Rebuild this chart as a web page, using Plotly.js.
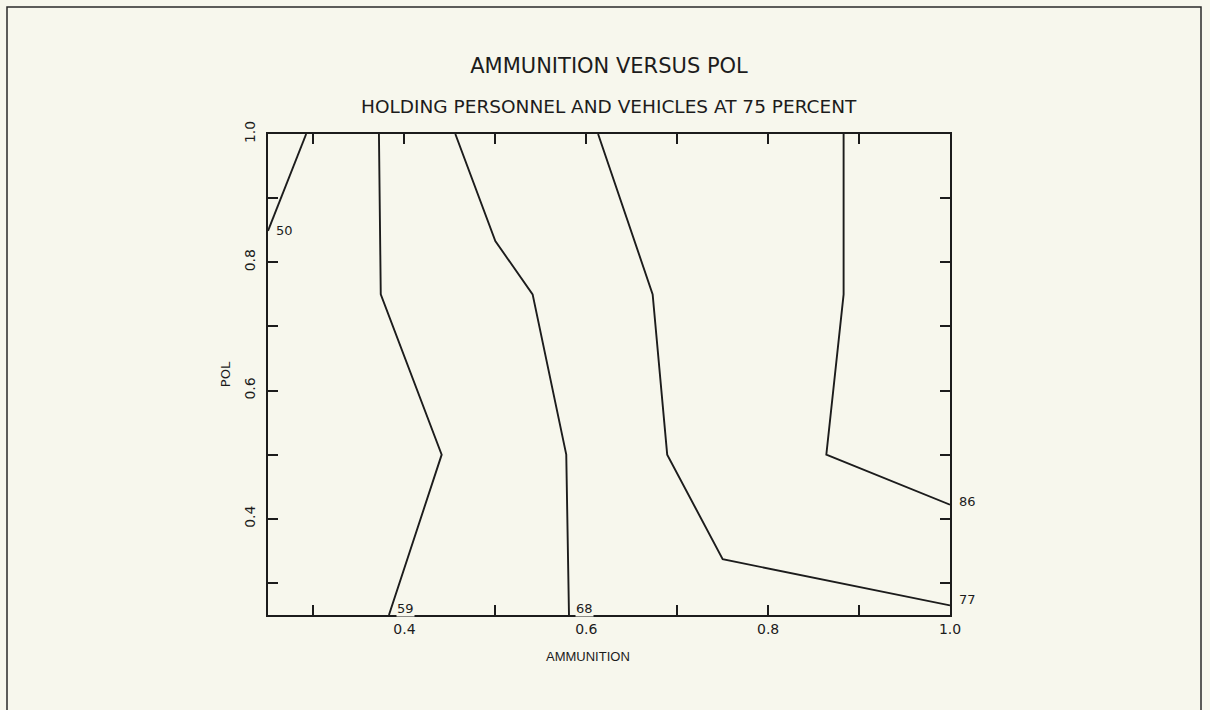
<!DOCTYPE html>
<html>
<head>
<meta charset="utf-8">
<script src="https://cdn.plot.ly/plotly-3.0.1.min.js"></script>
<style>
  html, body { margin: 0; padding: 0; background: #f7f7ed; }
  #chart { width: 1210px; height: 710px; }
</style>
</head>
<body>
<div id="chart"></div>
<script>
// ---- data (contour lines of the response surface) ----
const contourLevels = [50, 59, 68, 77, 86];

const level50X = [0.25, 0.292];
const level50Y = [0.849, 1.0];

const level59X = [0.383, 0.441, 0.374, 0.372];
const level59Y = [0.25, 0.50, 0.75, 1.0];

const level68X = [0.581, 0.578, 0.541, 0.500, 0.456];
const level68Y = [0.25, 0.50, 0.75, 0.833, 1.0];

const level77X = [1.0, 0.750, 0.689, 0.673, 0.613];
const level77Y = [0.265, 0.337, 0.50, 0.75, 1.0];

const level86X = [1.0, 0.864, 0.883, 0.883];
const level86Y = [0.422, 0.50, 0.75, 1.0];

const xTickVals = [0.3, 0.4, 0.5, 0.6, 0.7, 0.8, 0.9, 1.0];
const xTickText = ['', '0.4', '', '0.6', '', '0.8', '', '1.0'];
const yTickVals = [0.3, 0.4, 0.5, 0.6, 0.7, 0.8, 0.9, 1.0];
const yTickText = ['', '0.4', '', '0.6', '', '0.8', '', '1.0'];

// ---- drawing ----
const lineColor = '#1c1c1c';
const bg = '#f7f7ed';
const font = 'DejaVu Sans, Liberation Sans, sans-serif';
const font2 = 'Liberation Sans, Arial, sans-serif';
const series = [
  [level50X, level50Y],
  [level59X, level59Y],
  [level68X, level68Y],
  [level77X, level77Y],
  [level86X, level86Y]
];
const traces = series.map((s, i) => ({
  type: 'scatter', mode: 'lines',
  x: s[0], y: s[1],
  name: String(contourLevels[i]),
  line: { color: lineColor, width: 1.9 },
  hoverinfo: 'x+y+name',
  cliponaxis: false
}));

// label placement: at the first point of each contour with a small pixel offset
const labelOffsets = [[16, 0], [17, 7], [16, 7], [17, 6], [17, 3]];
const labelBg = ['rgba(0,0,0,0)', bg, bg, 'rgba(0,0,0,0)', 'rgba(0,0,0,0)'];
const contourAnnotations = series.map((s, i) => ({
  x: s[0][0], y: s[1][0], xref: 'x', yref: 'y',
  text: String(contourLevels[i]), showarrow: false,
  xshift: labelOffsets[i][0], yshift: labelOffsets[i][1],
  bgcolor: labelBg[i], borderpad: 0,
  font: { family: font, size: 13, color: lineColor }
}));

const layout = {
  width: 1210, height: 710,
  paper_bgcolor: bg, plot_bgcolor: bg,
  margin: { l: 268, r: 260, t: 134, b: 95 },
  showlegend: false,
  title: {
    text: 'AMMUNITION VERSUS POL',
    x: 0.5, xref: 'paper', xanchor: 'center',
    y: 1 - 66 / 710, yref: 'container', yanchor: 'middle',
    font: { family: font, size: 21, color: lineColor }
  },
  xaxis: {
    range: [0.25, 1.0], tickmode: 'array', tickvals: xTickVals, ticktext: xTickText,
    ticks: 'inside', ticklen: 10, tickwidth: 2, tickcolor: lineColor,
    showline: true, linewidth: 2.4, linecolor: lineColor, mirror: 'allticks',
    showgrid: false, zeroline: false,
    tickfont: { family: font, size: 14, color: lineColor },
    title: { text: '' }
  },
  yaxis: {
    range: [0.25, 1.0], tickmode: 'array', tickvals: yTickVals, ticktext: yTickText,
    ticks: 'inside', ticklen: 10, tickwidth: 2, tickcolor: lineColor,
    showline: true, linewidth: 2.4, linecolor: lineColor, mirror: 'allticks',
    showgrid: false, zeroline: false, tickangle: -90,
    ticklabelstandoff: 5,
    tickfont: { family: font, size: 14, color: lineColor },
    title: { text: 'POL', standoff: 9, font: { family: font, size: 13, color: lineColor } }
  },
  annotations: [
    {
      text: 'HOLDING PERSONNEL AND VEHICLES AT 75 PERCENT',
      xref: 'paper', yref: 'paper', x: 0.5, y: (615 - 106) / 481,
      xanchor: 'center', yanchor: 'middle', showarrow: false,
      font: { family: font, size: 18.5, color: lineColor }
    },
    {
      text: 'AMMUNITION',
      xref: 'paper', yref: 'paper', x: (588 - 268) / 682, y: (615 - 656) / 481,
      xanchor: 'center', yanchor: 'middle', showarrow: false,
      font: { family: font2, size: 13, color: lineColor }
    }
  ].concat(contourAnnotations),
  shapes: [
    {
      type: 'path', xref: 'paper', yref: 'paper',
      path: 'M ' + ((7 - 268) / 682) + ' ' + ((615 - 730) / 481) +
            ' L ' + ((7 - 268) / 682) + ' ' + ((615 - 7) / 481) +
            ' L ' + ((1201 - 268) / 682) + ' ' + ((615 - 7) / 481) +
            ' L ' + ((1201 - 268) / 682) + ' ' + ((615 - 730) / 481),
      line: { color: '#2a2a2a', width: 1.5 }
    }
  ]
};

Plotly.newPlot('chart', traces, layout, { staticPlot: true, displayModeBar: false });
</script>
</body>
</html>
